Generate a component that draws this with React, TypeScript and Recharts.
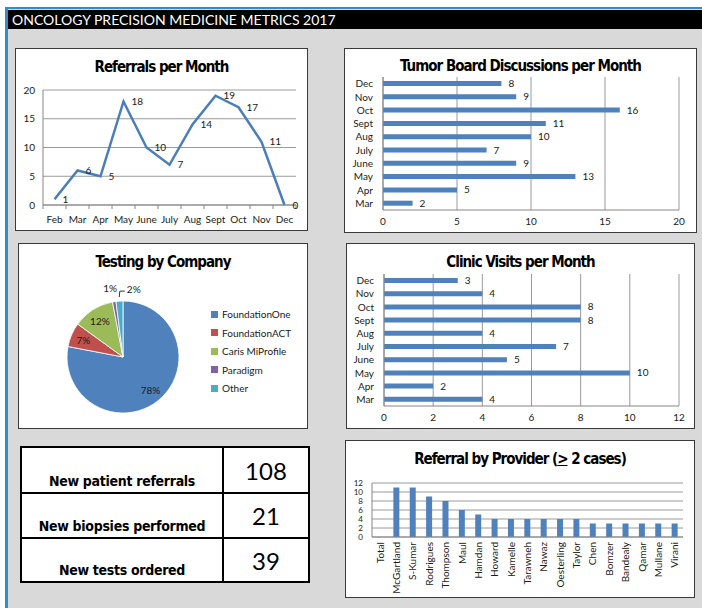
import React from 'react';
import {
    LineChart,
    Line,
    BarChart,
    Bar,
    XAxis,
    YAxis,
    CartesianGrid,
    LabelList,
    PieChart,
    Pie,
    Cell,
    Legend
} from 'recharts';

const REFERRAL_MONTHS = ['Feb', 'Mar', 'Apr', 'May', 'June', 'July', 'Aug', 'Sept', 'Oct', 'Nov', 'Dec'];
const REFERRALS = [1, 6, 5, 18, 10, 7, 14, 19, 17, 11, 0];
const REFERRAL_TICKS = [0, 5, 10, 15, 20];

const BOARD_MONTHS = ['Mar', 'Apr', 'May', 'June', 'July', 'Aug', 'Sept', 'Oct', 'Nov', 'Dec'];
const TUMOR_BOARD = [2, 5, 13, 9, 7, 10, 11, 16, 9, 8];
const TUMOR_BOARD_TICKS = [0, 5, 10, 15, 20];
const CLINIC_VISITS = [4, 2, 10, 5, 7, 4, 8, 8, 4, 3];
const CLINIC_TICKS = [0, 2, 4, 6, 8, 10, 12];

const COMPANIES = ['FoundationOne', 'FoundationACT', 'Caris MiProfile', 'Paradigm', 'Other'];
const COMPANY_SHARE = [78, 7, 12, 1, 2];

const PROVIDERS = ['Total', 'McGartland', 'S-Kumar', 'Rodrigues', 'Thompson', 'Maul', 'Hamdan', 'Howard', 'Kamelle',
    'Tarawneh', 'Nawaz', 'Oesterling', 'Taylor', 'Chen', 'Bomzer', 'Bandealy', 'Qamar', 'Mullane', 'Virani'];
const PROVIDER_CASES = [0, 11, 11, 9, 8, 6, 5, 4, 4, 4, 4, 4, 4, 3, 3, 3, 3, 3, 3];
const PROVIDER_TICKS = [0, 2, 4, 6, 8, 10, 12];

const SUMMARY_LABELS = ['New patient referrals', 'New biopsies performed', 'New tests ordered'];
const SUMMARY_VALUES = [108, 21, 39];

const COLORS = ['#4F81BD', '#C0504D', '#9BBB59', '#8064A2', '#4BACC6'];
const BAR_BLUE = '#4F81BD';
const TEXT = '#1a1a1a';
const GRID = '#9a9a9a';
const AXIS_FONT = 'Lato, "Open Sans", sans-serif';
const TITLE_FONT = '"DejaVu Sans Condensed", "DejaVu Sans", sans-serif';
const RADIAN = Math.PI / 180;

const referralData = REFERRAL_MONTHS.map((month, i) => ({ month, value: REFERRALS[i] }));
const boardData = BOARD_MONTHS.map((month, i) => ({ month, board: TUMOR_BOARD[i], clinic: CLINIC_VISITS[i] }));
const companyData = COMPANIES.map((name, i) => ({ name, value: COMPANY_SHARE[i], fill: COLORS[i] }));
const providerData = PROVIDERS.map((name, i) => ({ name, value: PROVIDER_CASES[i] }));

const panelStyle = (left: number, top: number, width: number, height: number): React.CSSProperties => ({
    position: 'absolute',
    left,
    top,
    width,
    height,
    background: '#fff',
    boxShadow: 'inset 0 0 0 1px #3a3a3a'
});

const Title = ({ children, top = 10 }: { children: React.ReactNode; top?: number }) => (
    <div style={{
        position: 'absolute',
        top,
        left: 0,
        width: '100%',
        textAlign: 'center',
        fontFamily: TITLE_FONT,
        fontWeight: 'bold',
        fontSize: 15,
        letterSpacing: -1,
        lineHeight: '18px',
        color: '#000',
        zIndex: 2
    }}>
        {children}
    </div>
);

// category band of the referrals x axis (plot width / months), for the between-category tick marks
const REFERRAL_BAND = 253 / REFERRAL_MONTHS.length;
const MonthTick = (props: any) => {
    const { x, y, payload, index } = props;
    const last = index === REFERRAL_MONTHS.length - 1;
    return (
        <g>
            <line x1={x - REFERRAL_BAND / 2} x2={x - REFERRAL_BAND / 2} y1={y - 8} y2={y - 4} stroke="#868686" />
            {last && <line x1={x + REFERRAL_BAND / 2} x2={x + REFERRAL_BAND / 2} y1={y - 8} y2={y - 4} stroke="#868686" />}
            <text x={x} y={y} dy={10} textAnchor="middle" fontSize={10} fill={TEXT} fontFamily={AXIS_FONT}>
                {payload.value}
            </text>
        </g>
    );
};

const ProviderTick = (props: any) => {
    const { x, y, payload } = props;
    return (
        <text
            x={x}
            y={y - 3}
            dy={3.5}
            transform={`rotate(-90, ${x}, ${y - 3})`}
            textAnchor="end"
            fontSize={10}
            fill={TEXT}
            fontFamily={AXIS_FONT}
        >
            {payload.value}
        </text>
    );
};

const renderPieLabel = (props: any) => {
    const { cx, cy, midAngle, outerRadius, percent, index } = props;
    const text = `${Math.round(percent * 100)}%`;
    const at = (r: number) => ({
        x: cx + r * Math.cos(-midAngle * RADIAN),
        y: cy + r * Math.sin(-midAngle * RADIAN)
    });
    const common = { fontSize: 10, fill: TEXT, fontFamily: AXIS_FONT };
    if (index < 3) {
        const p = at(outerRadius * 0.77);
        return <text x={p.x} y={p.y} textAnchor="middle" dominantBaseline="central" {...common}>{text}</text>;
    }
    if (index === 3) {
        const p = at(outerRadius * 1.24);
        return <text x={p.x - 2} y={p.y} textAnchor="middle" dominantBaseline="central" {...common}>{text}</text>;
    }
    const p0 = at(outerRadius + 4);
    const p1 = at(outerRadius + 10);
    return (
        <g>
            <path d={`M${p0.x},${p0.y} L${p1.x + 1},${p1.y} L${p1.x + 6},${p1.y}`} stroke="#333" fill="none" strokeWidth={1} />
            <text x={p1.x + 8} y={p1.y - 2} textAnchor="start" dominantBaseline="central" {...common}>{text}</text>
        </g>
    );
};

const renderCompanyLegend = () => (
    <div style={{ fontFamily: AXIS_FONT, fontSize: 10, color: TEXT }}>
        {COMPANIES.map((name, i) => (
            <div key={name} style={{ display: 'flex', alignItems: 'center', height: 18.5 }}>
                <span style={{ width: 7, height: 7, background: COLORS[i], marginRight: 4, display: 'inline-block' }} />
                {name}
            </div>
        ))}
    </div>
);

const axisTick = { fontSize: 10, fill: TEXT, fontFamily: AXIS_FONT };

const App: React.FC = () => {
    return (
        <div style={{ position: 'absolute', left: 0, top: 0, width: 702, height: 608, background: '#fff', overflow: 'hidden' }}>
            <div style={{
                position: 'absolute',
                left: 5,
                top: 7,
                width: 697,
                height: 601,
                background: '#d9d9d9',
                borderLeft: '3px solid #2a8fd6',
                borderTop: '2px solid #2a8fd6',
                boxSizing: 'border-box'
            }} />
            <div style={{
                position: 'absolute',
                left: 8,
                top: 10,
                width: 694,
                height: 19,
                background: '#000',
                color: '#fff',
                fontFamily: AXIS_FONT,
                fontSize: 14,
                lineHeight: '20px',
                paddingLeft: 4,
                boxSizing: 'border-box',
                whiteSpace: 'nowrap'
            }}>
                ONCOLOGY PRECISION MEDICINE METRICS 2017
            </div>

            {/* Referrals per Month */}
            <div style={panelStyle(15, 48, 293, 183)}>
                <Title>Referrals per Month</Title>
                <LineChart width={293} height={183} data={referralData} margin={{ top: 42, right: 12, left: 0, bottom: 0 }}>
                    <CartesianGrid vertical={false} stroke={GRID} />
                    <XAxis
                        dataKey="month"
                        height={26}
                        tick={<MonthTick />}
                        tickLine={false}
                        stroke="#868686"
                        interval={0}
                        padding={{ left: REFERRAL_BAND / 2, right: REFERRAL_BAND / 2 }}
                    />
                    <YAxis width={28} domain={[0, 20]} ticks={REFERRAL_TICKS} tick={axisTick} tickLine={false} stroke="#868686" interval={0} />
                    <Line
                        type="linear"
                        dataKey="value"
                        stroke="#4A7EBB"
                        strokeWidth={2.5}
                        dot={false}
                        isAnimationActive={false}
                    >
                        <LabelList dataKey="value" position="right" offset={8} fill={TEXT} fontSize={10} fontFamily={AXIS_FONT} />
                    </Line>
                </LineChart>
            </div>

            {/* Tumor Board Discussions per Month */}
            <div style={panelStyle(344, 48, 353, 185)}>
                <Title top={9}>Tumor Board Discussions per Month</Title>
                <BarChart width={353} height={185} data={boardData} layout="vertical" margin={{ top: 29, right: 18, left: 0, bottom: 0 }}>
                    <CartesianGrid horizontal={false} stroke={GRID} />
                    <XAxis type="number" domain={[0, 20]} ticks={TUMOR_BOARD_TICKS} height={23} tick={axisTick} tickLine={false} stroke="#868686" interval={0} />
                    <YAxis type="category" dataKey="month" reversed width={39} tick={axisTick} tickLine={false} tickMargin={4} stroke="#868686" interval={0} />
                    <Bar dataKey="board" fill={BAR_BLUE} barSize={5} isAnimationActive={false}>
                        <LabelList dataKey="board" position="right" offset={7} fill={TEXT} fontSize={10} fontFamily={AXIS_FONT} />
                    </Bar>
                </BarChart>
            </div>

            {/* Testing by Company */}
            <div style={panelStyle(18, 243, 290, 186)}>
                <Title>Testing by Company</Title>
                <PieChart width={290} height={186}>
                    <Pie
                        data={companyData}
                        dataKey="value"
                        nameKey="name"
                        cx={100}
                        cy={109}
                        outerRadius={56}
                        startAngle={90}
                        endAngle={-270}
                        stroke="#fff"
                        strokeWidth={0.8}
                        label={renderPieLabel}
                        labelLine={false}
                        isAnimationActive={false}
                    >
                        {companyData.map((entry, index) => (
                            <Cell key={`cell-${index}`} fill={entry.fill} />
                        ))}
                    </Pie>
                    <Legend
                        layout="vertical"
                        verticalAlign="top"
                        align="right"
                        content={renderCompanyLegend}
                        wrapperStyle={{ left: 193, top: 62, width: 95 }}
                    />
                </PieChart>
            </div>

            {/* Clinic Visits per Month */}
            <div style={panelStyle(346, 243, 349, 186)}>
                <Title>Clinic Visits per Month</Title>
                <BarChart width={349} height={186} data={boardData} layout="vertical" margin={{ top: 31, right: 16, left: 0, bottom: 0 }}>
                    <CartesianGrid horizontal={false} stroke={GRID} />
                    <XAxis type="number" domain={[0, 12]} ticks={CLINIC_TICKS} height={23} tick={axisTick} tickLine={false} stroke="#868686" interval={0} />
                    <YAxis type="category" dataKey="month" reversed width={38} tick={axisTick} tickLine={false} tickMargin={4} stroke="#868686" interval={0} />
                    <Bar dataKey="clinic" fill={BAR_BLUE} barSize={5} isAnimationActive={false}>
                        <LabelList dataKey="clinic" position="right" offset={7} fill={TEXT} fontSize={10} fontFamily={AXIS_FONT} />
                    </Bar>
                </BarChart>
            </div>

            {/* Summary table */}
            <div style={{
                position: 'absolute',
                left: 20,
                top: 446,
                width: 290,
                height: 137,
                background: '#fff',
                border: '2px solid #000',
                boxSizing: 'border-box'
            }}>
                {SUMMARY_LABELS.map((label, i) => (
                    <div key={label} style={{
                        display: 'flex',
                        height: i === 1 ? 45 : 44,
                        borderTop: i > 0 ? '2px solid #000' : 'none',
                        boxSizing: 'border-box'
                    }}>
                        <div style={{
                            width: 202,
                            borderRight: '2px solid #000',
                            display: 'flex',
                            alignItems: 'flex-end',
                            justifyContent: 'center',
                            paddingBottom: 3,
                            boxSizing: 'border-box',
                            fontFamily: TITLE_FONT,
                            fontWeight: 'bold',
                            fontSize: 14,
                            letterSpacing: -0.3,
                            color: '#000'
                        }}>
                            {label}
                        </div>
                        <div style={{
                            flex: 1,
                            display: 'flex',
                            alignItems: 'center',
                            justifyContent: 'center',
                            fontFamily: AXIS_FONT,
                            fontSize: 24,
                            color: '#000'
                        }}>
                            {SUMMARY_VALUES[i]}
                        </div>
                    </div>
                ))}
            </div>

            {/* Referral by Provider */}
            <div style={panelStyle(345, 440, 350, 158)}>
                <Title>
                    Referral by Provider (<span style={{ textDecoration: 'underline' }}>&gt;</span> 2 cases)
                </Title>
                <BarChart width={350} height={158} data={providerData} margin={{ top: 43, right: 12, left: 0, bottom: 0 }}>
                    <CartesianGrid vertical={false} stroke={GRID} />
                    <XAxis dataKey="name" height={61} interval={0} tick={<ProviderTick />} tickLine={false} stroke="#868686" />
                    <YAxis
                        width={27}
                        domain={[0, 12]}
                        ticks={PROVIDER_TICKS}
                        interval={0}
                        tick={{ ...axisTick, fontSize: 8 }}
                        tickLine={false}
                        tickMargin={3}
                        stroke="#868686"
                    />
                    <Bar dataKey="value" fill={BAR_BLUE} barSize={6} isAnimationActive={false} />
                </BarChart>
            </div>
        </div>
    );
};

export default App;
